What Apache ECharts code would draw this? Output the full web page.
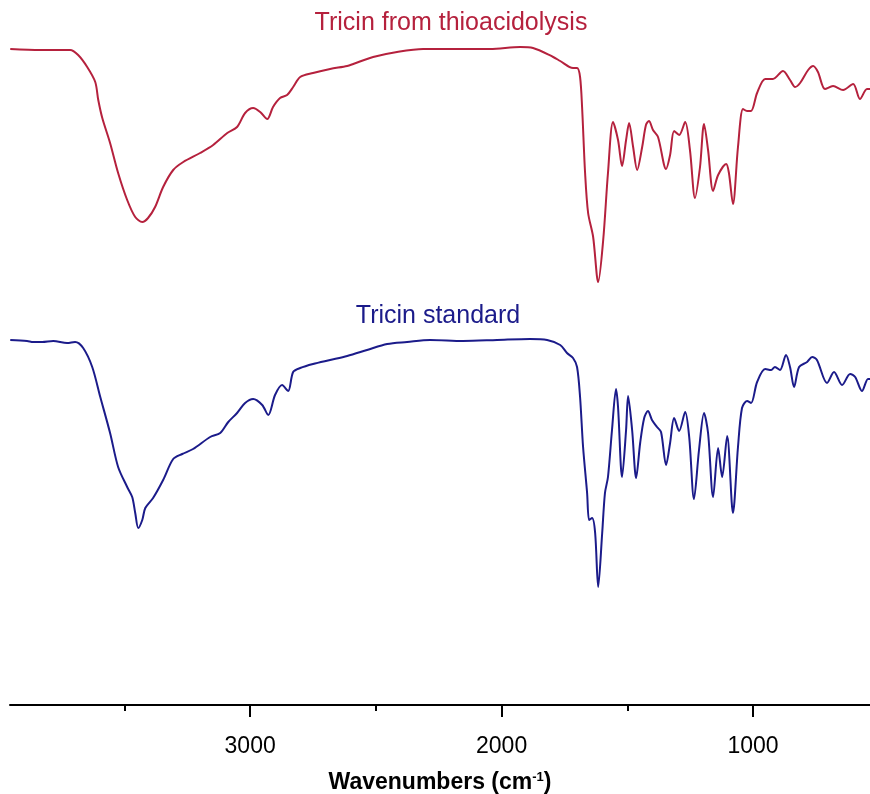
<!DOCTYPE html>
<html>
<head>
<meta charset="utf-8">
<title>Tricin FTIR</title>
<script src="https://cdn.jsdelivr.net/npm/echarts@6/dist/echarts.min.js"></script>
<style>
  html, body { margin: 0; padding: 0; background: #fff; }
  #chart { width: 870px; height: 794px; }
</style>
</head>
<body>
<div id="chart"></div>
<script>
// wavenumber (cm-1) and transmittance (arbitrary units, offset traces)
const redWn = [3954, 3835, 3716, 3684, 3648, 3616, 3604, 3588, 3557, 3525, 3489, 3457, 3429, 3406, 3378, 3346, 3306, 3266, 3199, 3147, 3091, 3052, 3020, 2988, 2960, 2932, 2909, 2881, 2853, 2829, 2801, 2750, 2682, 2614, 2590, 2511, 2416, 2312, 2177, 2046, 1926, 1875, 1795, 1767, 1716, 1700, 1688, 1680, 1668, 1656, 1636, 1616, 1596, 1577, 1557, 1537, 1521, 1505, 1493, 1477, 1461, 1441, 1426, 1414, 1398, 1378, 1346, 1330, 1314, 1294, 1270, 1251, 1231, 1211, 1195, 1179, 1159, 1139, 1107, 1096, 1080, 1060, 1040, 1024, 1008, 984, 952, 921, 881, 853, 833, 813, 781, 761, 742, 714, 682, 642, 602, 575, 547, 535]
const redT = [656, 655, 655, 650, 638, 623, 605, 587, 562, 532, 505, 488, 483, 487, 498, 518, 535, 543, 552, 560, 572, 578, 592, 597, 593, 586, 598, 607, 610, 618, 628, 632, 636, 639, 641, 648, 653, 656, 656, 656, 658, 657, 648, 644, 637, 637, 628, 598, 532, 492, 468, 423, 465, 532, 583, 565, 539, 565, 582, 558, 535, 558, 580, 584, 575, 568, 536, 550, 574, 570, 583, 555, 507, 538, 581, 555, 514, 530, 541, 532, 501, 558, 596, 594, 594, 612, 626, 626, 634, 625, 618, 622, 635, 639, 633, 616, 619, 615, 621, 606, 616, 616]

const blueWn = [3954, 3887, 3863, 3827, 3783, 3728, 3696, 3664, 3628, 3596, 3557, 3525, 3489, 3469, 3457, 3445, 3429, 3417, 3386, 3346, 3306, 3270, 3227, 3159, 3119, 3087, 3052, 3020, 2988, 2952, 2928, 2901, 2873, 2849, 2829, 2801, 2750, 2682, 2614, 2535, 2455, 2376, 2284, 2153, 2018, 1887, 1819, 1767, 1740, 1716, 1700, 1688, 1676, 1660, 1652, 1640, 1628, 1616, 1600, 1589, 1577, 1561, 1545, 1537, 1521, 1505, 1497, 1481, 1465, 1449, 1433, 1418, 1402, 1382, 1366, 1346, 1330, 1314, 1294, 1270, 1254, 1235, 1215, 1195, 1179, 1159, 1139, 1123, 1103, 1080, 1060, 1044, 1024, 1008, 984, 952, 928, 913, 893, 869, 853, 837, 817, 785, 765, 746, 706, 678, 646, 614, 594, 567, 543, 535]
const blueT = [365, 364, 363, 363, 364, 362, 363, 357, 338, 308, 272, 238, 218, 208, 192, 177, 185, 197, 207, 225, 246, 251, 256, 268, 272, 283, 292, 302, 306, 300, 290, 310, 320, 314, 333, 337, 341, 345, 349, 355, 361, 363, 365, 364, 365, 366, 365, 360, 352, 347, 338, 308, 258, 212, 185, 187, 172, 118, 172, 212, 228, 275, 316, 298, 228, 275, 309, 275, 227, 262, 287, 294, 285, 278, 273, 240, 262, 287, 274, 293, 268, 206, 255, 292, 272, 208, 257, 228, 269, 192, 258, 297, 304, 302, 323, 336, 335, 338, 335, 350, 338, 318, 338, 343, 348, 345, 322, 333, 320, 331, 328, 314, 326, 326]

const majorTicks = [1000, 2000, 3000]
const minorTicks = [1500, 2500, 3500]

const redColor = '#b5213d'
const blueColor = '#1b1b8a'

const pair = (xs, ys) => xs.map((x, i) => [x, ys[i]])

const chart = echarts.init(document.getElementById('chart'))

const xBase = {
  type: 'value',
  inverse: true,
  position: 'bottom',
  min: 535,
  max: 3955,
  splitLine: { show: false }
}

chart.setOption({
  animation: false,
  grid: { left: 10, right: 0, top: 0, bottom: 89, outerBoundsMode: 'none', containLabel: false },
  xAxis: [{
    ...xBase,
    name: '{b|Wavenumbers (cm}{s|-1}{b|)}',
    nameLocation: 'middle',
    nameGap: 66,
    nameTextStyle: {
      rich: {
        b: { fontFamily: 'Liberation Sans', fontSize: 23, fontWeight: 'bold', color: '#000' },
        s: { fontFamily: 'Liberation Sans', fontSize: 13, fontWeight: 'bold', color: '#000', verticalAlign: 'top', padding: [0, 0, 10, 0] }
      }
    },
    axisLine: { lineStyle: { color: '#000', width: 2 } },
    axisTick: { customValues: majorTicks, length: 12, lineStyle: { color: '#000', width: 2 } },
    axisLabel: {
      customValues: majorTicks,
      formatter: v => String(v),
      margin: 30,
      fontFamily: 'Liberation Sans',
      fontSize: 23,
      color: '#000'
    }
  }, {
    ...xBase,
    axisLine: { show: false },
    axisTick: { customValues: minorTicks, length: 6, lineStyle: { color: '#000', width: 2 } },
    axisLabel: { show: false }
  }],
  yAxis: {
    type: 'value',
    min: 0,
    max: 705,
    show: false
  },
  graphic: [{
    type: 'text',
    x: 451,
    y: 23,
    style: {
      text: 'Tricin from thioacidolysis',
      fill: redColor,
      font: '25px "Liberation Sans"',
      textAlign: 'center',
      textVerticalAlign: 'middle'
    }
  }, {
    type: 'text',
    x: 438,
    y: 316,
    style: {
      text: 'Tricin standard',
      fill: blueColor,
      font: '25px "Liberation Sans"',
      textAlign: 'center',
      textVerticalAlign: 'middle'
    }
  }],
  series: [{
    name: 'Tricin from thioacidolysis',
    type: 'line',
    data: pair(redWn, redT),
    showSymbol: false,
    smooth: 0.3,
    lineStyle: { color: redColor, width: 2 }
  }, {
    name: 'Tricin standard',
    type: 'line',
    data: pair(blueWn, blueT),
    showSymbol: false,
    smooth: 0.3,
    lineStyle: { color: blueColor, width: 2 }
  }]
})
</script>
</body>
</html>
